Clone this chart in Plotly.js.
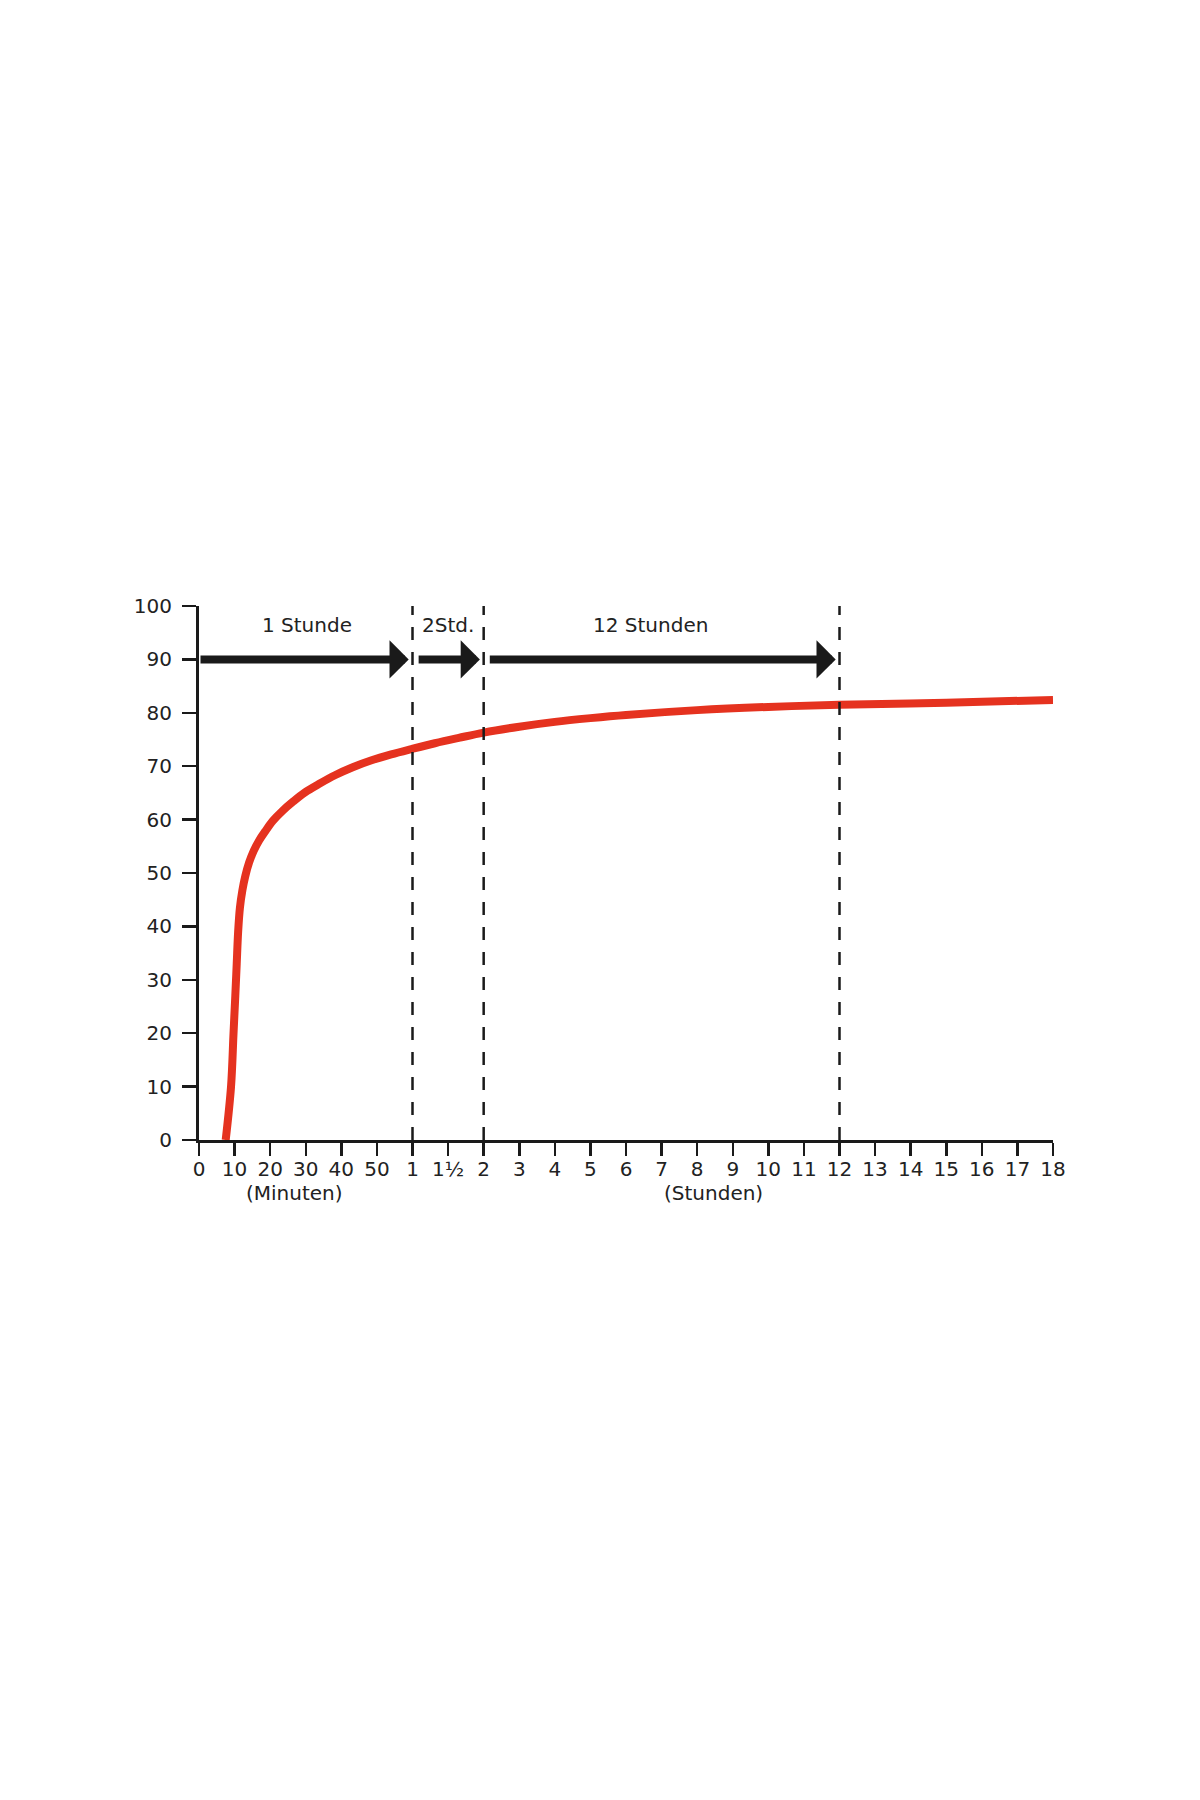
<!DOCTYPE html>
<html>
<head>
<meta charset="utf-8">
<script src="https://cdn.plot.ly/plotly-3.0.1.min.js"></script>
<style>
  html, body { margin: 0; padding: 0; background: #ffffff; }
  #chart { width: 1200px; height: 1800px; }
</style>
</head>
<body>
<div id="chart"></div>
<script>
// Axis: evenly spaced tick positions with mixed minute/hour labels
const tickPositions = [0,1,2,3,4,5,6,7,8,9,10,11,12,13,14,15,16,17,18,19,20,21,22,23,24];
const tickLabels = ['0','10','20','30','40','50','1','1½','2','3','4','5','6','7','8','9','10','11','12','13','14','15','16','17','18'];
const yTickValues = [0,10,20,30,40,50,60,70,80,90,100];

// Curve (positions on the tick scale above, values in %)
const curvePos = [0.75, 0.90, 0.97, 1.02, 1.06, 1.10, 1.15, 1.22, 1.30, 1.41, 1.54, 1.69, 1.86, 2.08, 2.34, 2.65, 2.98, 3.38, 3.82, 4.32, 4.85, 5.40, 5.97, 6.63, 7.3, 8.0, 9.0, 10, 11, 12, 14, 16, 18, 21, 24];
const curveVal = [0, 10, 20, 27, 33, 39, 43.5, 46.8, 49.4, 52, 54.2, 56.1, 57.8, 59.8, 61.6, 63.4, 65.1, 66.7, 68.3, 69.8, 71.1, 72.2, 73.2, 74.3, 75.3, 76.3, 77.4, 78.3, 79.0, 79.6, 80.5, 81.1, 81.5, 81.9, 82.4];

// Period boundaries (dashed lines) and arrows
const boundaryPos = [6, 8, 18];
const arrowStart = [0, 6.13, 8.13];
const arrowEnd = [6, 8, 18];
const arrowLevel = 90;
const periodLabels = ['1 Stunde', '2Std.', '12 Stunden'];
const periodLabelPos = [3.03, 7.0, 12.68];
const periodLabelLevel = 96.5;
const unitLabels = ['(Minuten)', '(Stunden)'];
const unitLabelPos = [2.67, 14.45];

const FONT = 'DejaVu Sans, sans-serif';
const INK = '#1a1a1a';
const TEXT = '#222222';

const trace = {
  x: curvePos,
  y: curveVal,
  type: 'scatter',
  mode: 'lines',
  line: { color: '#e5321f', width: 8, shape: 'spline', smoothing: 1 },
  hoverinfo: 'skip',
  showlegend: false
};

const shapes = boundaryPos.map(p => ({
  type: 'line', xref: 'x', yref: 'y',
  x0: p, x1: p, y0: 0, y1: 100,
  line: { color: INK, width: 2.5, dash: '13px,12px' },
  layer: 'above'
}));

const annotations = [];
for (let i = 0; i < arrowStart.length; i++) {
  annotations.push({
    x: arrowEnd[i], y: arrowLevel, xref: 'x', yref: 'y',
    ax: arrowStart[i], ay: arrowLevel, axref: 'x', ayref: 'y',
    text: '', showarrow: true,
    arrowhead: 1, arrowsize: 0.8, arrowwidth: 8, arrowcolor: INK,
    standoff: 3.8, font: { size: 1 }
  });
}
periodLabels.forEach((t, i) => annotations.push({
  x: periodLabelPos[i], y: periodLabelLevel, xref: 'x', yref: 'y',
  text: t, showarrow: false,
  font: { family: FONT, size: 20, color: TEXT }
}));
unitLabels.forEach((t, i) => annotations.push({
  x: unitLabelPos[i], y: -0.1, xref: 'x', yref: 'paper',
  xanchor: 'center', yanchor: 'middle',
  text: t, showarrow: false,
  font: { family: FONT, size: 20, color: TEXT }
}));

const layout = {
  width: 1200,
  height: 1800,
  margin: { l: 199, r: 147, t: 606, b: 660 },
  paper_bgcolor: '#ffffff',
  plot_bgcolor: '#ffffff',
  showlegend: false,
  xaxis: {
    range: [0, 24],
    tickmode: 'array',
    tickvals: tickPositions,
    ticktext: tickLabels,
    ticks: 'outside', ticklen: 13, tickwidth: 2.5, tickcolor: INK,
    showline: true, linewidth: 3, linecolor: INK,
    showgrid: false, zeroline: false,
    tickfont: { family: FONT, size: 20, color: TEXT },
    ticklabelstandoff: -4,
    fixedrange: true
  },
  yaxis: {
    range: [0, 100],
    tickmode: 'array',
    tickvals: yTickValues,
    ticks: 'outside', ticklen: 14, tickwidth: 2.5, tickcolor: INK,
    showline: true, linewidth: 3, linecolor: INK,
    showgrid: false, zeroline: false,
    tickfont: { family: FONT, size: 20, color: TEXT },
    ticklabelstandoff: 6,
    fixedrange: true
  },
  shapes: shapes,
  annotations: annotations
};

Plotly.newPlot('chart', [trace], layout, { staticPlot: true, displayModeBar: false });
</script>
</body>
</html>
